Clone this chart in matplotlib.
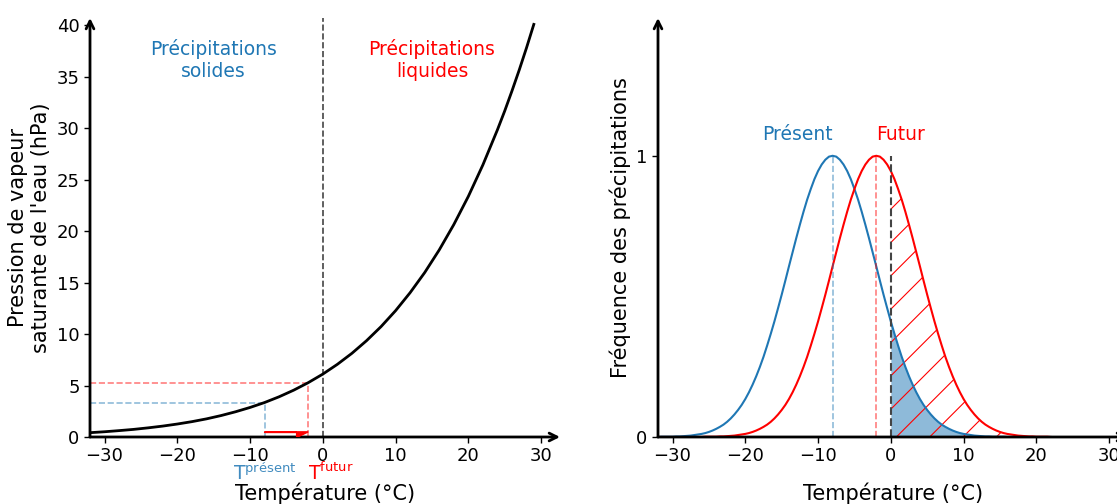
import matplotlib
matplotlib.use("Agg")
import matplotlib.pyplot as plt
import numpy as np

# left panel: saturation vapour pressure (hPa)
temp_sat = [-32, -30, -28, -26, -24, -22, -20, -18, -16, -14, -12, -10, -8, -6, -4, -2,
            0, 2, 4, 6, 8, 10, 12, 14, 16, 18, 20, 22, 24, 25, 26, 27, 28, 29]
pres_sat = [0.42, 0.51, 0.62, 0.74, 0.89, 1.06, 1.26, 1.49, 1.76, 2.08, 2.45, 2.87, 3.35, 3.91, 4.55, 5.28,
            6.11, 7.06, 8.13, 9.35, 10.72, 12.27, 14.02, 15.97, 18.17, 20.63, 23.37, 26.43, 29.84, 31.67,
            33.62, 35.66, 37.81, 40.08]
t_present = -8
t_futur = -2
p_present = 3.35
p_futur = 5.28

# right panel: precipitation frequency vs temperature, every 0.5 degC from -32 to 22
temp_freq = np.arange(-32, 22.25, 0.5)
freq_present = [0.000, 0.001, 0.001, 0.001, 0.001, 0.002, 0.002, 0.003, 0.004, 0.005, 0.007, 0.009,
                0.011, 0.014, 0.018, 0.023, 0.029, 0.036, 0.044, 0.054, 0.066, 0.080, 0.096, 0.114,
                0.135, 0.159, 0.186, 0.216, 0.249, 0.285, 0.325, 0.367, 0.411, 0.458, 0.506, 0.556,
                0.607, 0.657, 0.707, 0.755, 0.801, 0.844, 0.882, 0.917, 0.946, 0.969, 0.986, 0.997,
                1.000,
                0.997, 0.986, 0.969, 0.946, 0.917, 0.882, 0.844, 0.801, 0.755, 0.707, 0.657, 0.607,
                0.556, 0.506, 0.458, 0.411, 0.367, 0.325, 0.285, 0.249, 0.216, 0.186, 0.159, 0.135,
                0.114, 0.096, 0.080, 0.066, 0.054, 0.044, 0.036, 0.029, 0.023, 0.018, 0.014, 0.011,
                0.009, 0.007, 0.005, 0.004, 0.003, 0.002, 0.002, 0.001, 0.001, 0.001, 0.001, 0.000,
                0.000, 0.000, 0.000, 0.000, 0.000, 0.000, 0.000, 0.000, 0.000, 0.000, 0.000, 0.000]
freq_futur = [0.000, 0.000, 0.000, 0.000, 0.000, 0.000, 0.000, 0.000, 0.000, 0.000, 0.000, 0.000,
              0.000, 0.001, 0.001, 0.001, 0.001, 0.002, 0.002, 0.003, 0.004, 0.005, 0.007, 0.009,
              0.011, 0.014, 0.018, 0.023, 0.029, 0.036, 0.044, 0.054, 0.066, 0.080, 0.096, 0.114,
              0.135, 0.159, 0.186, 0.216, 0.249, 0.285, 0.325, 0.367, 0.411, 0.458, 0.506, 0.556,
              0.607, 0.657, 0.707, 0.755, 0.801, 0.844, 0.882, 0.917, 0.946, 0.969, 0.986, 0.997,
              1.000,
              0.997, 0.986, 0.969, 0.946, 0.917, 0.882, 0.844, 0.801, 0.755, 0.707, 0.657, 0.607,
              0.556, 0.506, 0.458, 0.411, 0.367, 0.325, 0.285, 0.249, 0.216, 0.186, 0.159, 0.135,
              0.114, 0.096, 0.080, 0.066, 0.054, 0.044, 0.036, 0.029, 0.023, 0.018, 0.014, 0.011,
              0.009, 0.007, 0.005, 0.004, 0.003, 0.002, 0.002, 0.001, 0.001, 0.001, 0.001, 0.000]

x_ticks = [-30, -20, -10, 0, 10, 20, 30]
blue = "#1f77b4"
red = "red"

plt.rcParams['font.family'] = 'DejaVu Sans'
plt.rcParams['hatch.linewidth'] = 0.8
fig = plt.figure(figsize=(11.17, 5.04), dpi=100)
W, H = 1117, 504
ax1 = fig.add_axes([90 / W, 1 - 437 / H, 470 / W, 419 / H])
ax2 = fig.add_axes([658 / W, 1 - 437 / H, 470 / W, 419 / H])


def arrow_axes(ax):
    for s in ax.spines.values():
        s.set_visible(False)
    ax.annotate("", xy=(1, 0), xytext=(0, 0), xycoords="axes fraction",
                arrowprops=dict(arrowstyle="->", lw=2, color="black", shrinkA=0, shrinkB=0,
                                mutation_scale=14))
    ax.annotate("", xy=(0, 1), xytext=(0, 0), xycoords="axes fraction",
                arrowprops=dict(arrowstyle="->", lw=2, color="black", shrinkA=0, shrinkB=0,
                                mutation_scale=14))
    ax.tick_params(labelsize=13, length=4, width=1)
    ax.set_xticks(x_ticks)
    ax.set_xticklabels([str(t).replace("-", "\u2212") for t in x_ticks])


# ---- left panel
ax1.set_xlim(-32, 32.6)
ax1.set_ylim(0, 40.7)
arrow_axes(ax1)
ax1.set_yticks(range(0, 41, 5))
ax1.plot(temp_sat, pres_sat, color="black", lw=2, zorder=3)
ax1.plot([0, 0], [0, 40.7], "--", color="#444444", lw=1.2)
ax1.plot([-32, t_present, t_present], [p_present, p_present, 0], "--", color=blue, alpha=0.5, lw=1.2)
ax1.plot([-32, t_futur, t_futur], [p_futur, p_futur, 0], "--", color=red, alpha=0.5, lw=1.2)
ax1.arrow(t_present, 0.5, t_futur - t_present, 0, color=red, width=0.12, head_width=1.1,
          head_length=1.6, length_includes_head=True, shape="left", zorder=4)
ax1.text(-15, 36.6, "Précipitations\nsolides", color=blue, fontsize=13.5, ha="center", va="center")
ax1.text(15, 36.6, "Précipitations\nliquides", color=red, fontsize=13.5, ha="center", va="center")
ax1.text(t_present, -4.15, r"T$^{\mathrm{présent}}$", color=blue, alpha=0.85, fontsize=13.5,
         ha="center", va="baseline", clip_on=False)
ax1.text(t_futur - 0.1, -4.15, r"T$^{\mathrm{futur}}$", color=red, fontsize=13.5,
         ha="left", va="baseline", clip_on=False)
ax1.set_xlabel("Température (°C)", fontsize=15, labelpad=12)
ax1.set_ylabel("Pression de vapeur\nsaturante de l'eau (hPa)", fontsize=15)

# ---- right panel
ax2.set_xlim(-32, 32.6)
ax2.set_ylim(0, 1.49)
arrow_axes(ax2)
ax2.set_yticks([0, 1])
fp = np.array(freq_present)
ff = np.array(freq_futur)
m = temp_freq >= 0
ax2.fill_between(temp_freq[m], 0, fp[m], color=blue, alpha=0.5, lw=0)
ax2.fill_between(temp_freq[m], 0, ff[m], facecolor="none", edgecolor=red, hatch="/", lw=0)
ax2.plot(temp_freq, fp, color=blue, lw=1.5)
ax2.plot(temp_freq, ff, color=red, lw=1.5)
ax2.plot([t_present, t_present], [0, 1], "--", color=blue, alpha=0.5, lw=1.2)
ax2.plot([t_futur, t_futur], [0, 1], "--", color=red, alpha=0.5, lw=1.2)
ax2.plot([0, 0], [0, 1], "--", color="#444444", lw=1.5)
ax2.text(-12.8, 1.075, "Présent", color=blue, fontsize=13.5, ha="center", va="center")
ax2.text(1.4, 1.075, "Futur", color=red, fontsize=13.5, ha="center", va="center")
ax2.set_xlabel("Température (°C)", fontsize=15, labelpad=12)
ax2.set_ylabel("Fréquence des précipitations", fontsize=15)

fig.savefig("out.png", dpi=100)
